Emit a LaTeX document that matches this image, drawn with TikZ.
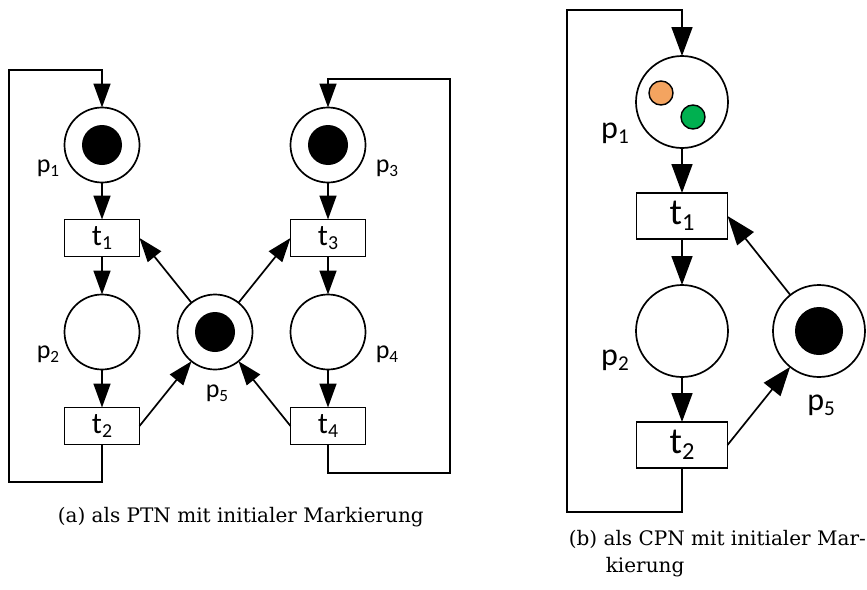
\documentclass[tikz,border=0pt]{standalone}
\usepackage{fontspec}
\usepackage{graphicx}
\setmainfont{DejaVu Serif}
\newfontfamily\lblfont{Carlito}
\usetikzlibrary{arrows.meta}
% index digit for place and transition names
\newcommand{\pnsub}[1]{\raisebox{-0.16em}{\scalebox{0.66}{#1}}}
\definecolor{tokorange}{RGB}{244,164,96}
\definecolor{tokgreen}{RGB}{0,176,80}

\begin{document}
\begin{tikzpicture}[x=1pt,y=-1pt,
  line width=1.7pt,
  arcA/.style={-{Triangle[length=24pt,width=17pt]}},
  arcB/.style={-{Triangle[length=29pt,width=21pt]}},
  placeA/.style={circle,draw,inner sep=0pt,outer sep=0pt,minimum size=75pt},
  placeB/.style={circle,draw,inner sep=0pt,outer sep=0pt,minimum size=92pt},
  transA/.style={rectangle,draw,inner sep=0pt,outer sep=0pt,minimum width=75pt,minimum height=37pt,
                 font=\lblfont\fontsize{30}{30}\selectfont},
  transB/.style={rectangle,draw,inner sep=0pt,outer sep=0pt,minimum width=91pt,minimum height=46pt,
                 font=\lblfont\fontsize{37}{37}\selectfont},
  tokA/.style={circle,fill=black,inner sep=0pt,minimum size=40pt},
  tokB/.style={circle,fill=black,inner sep=0pt,minimum size=48pt},
  ctok/.style={circle,draw=black,line width=1.4pt,inner sep=0pt,minimum size=24pt,fill=#1},
  lblA/.style={anchor=base,inner sep=0pt,font=\lblfont\fontsize{26}{26}\selectfont},
  lblB/.style={anchor=base,inner sep=0pt,font=\lblfont\fontsize{32}{32}\selectfont},
  capt/.style={anchor=base west,inner sep=0pt,font=\fontsize{20}{24}\selectfont}
]
\useasboundingbox (0,0) rectangle (867,589);

% ---------- (a) place/transition net ----------
\node[placeA] (ap1) at (102,145) {};
\node[tokA] (ap1tok) at (ap1) {};
\node[transA] (at1) at (102,238) {t\pnsub{1}};
\node[placeA] (ap2) at (102,332) {};
\node[transA] (at2) at (102,426) {t\pnsub{2}};

\node[placeA] (ap3) at (328,145) {};
\node[tokA] (ap3tok) at (ap3) {};
\node[transA] (at3) at (328,238) {t\pnsub{3}};
\node[placeA] (ap4) at (328,332) {};
\node[transA] (at4) at (328,426) {t\pnsub{4}};

\node[placeA] (ap5) at (215,332) {};
\node[tokA] (ap5tok) at (ap5) {};

\node[lblA] (ap1lbl) at (48,172) {p\pnsub{1}};
\node[lblA] (ap2lbl) at (48,358) {p\pnsub{2}};
\node[lblA] (ap3lbl) at (387,172) {p\pnsub{3}};
\node[lblA] (ap4lbl) at (387,358) {p\pnsub{4}};
\node[lblA] (ap5lbl) at (217,397) {p\pnsub{5}};

\draw[arcA] (ap1) -- (at1);
\draw[arcA] (at1) -- (ap2);
\draw[arcA] (ap2) -- (at2);
\draw[arcA] (ap3) -- (at3);
\draw[arcA] (at3) -- (ap4);
\draw[arcA] (ap4) -- (at4);
\draw[arcA] (ap5) -- (at1.east);
\draw[arcA] (ap5) -- (at3.west);
\draw[arcA] (at2.east) -- (ap5);
\draw[arcA] (at4.west) -- (ap5);

\coordinate (aLB) at (9,482);
\coordinate (aLT) at (9,70);
\draw[arcA] (at2.south) |- (aLB) -- (aLT) -| (ap1.north);
\coordinate (aRB) at (450,473);
\coordinate (aRT) at (450,79);
\draw[arcA] (at4.south) |- (aRB) -- (aRT) -| (ap3.north);

\node[capt] (capa) at (57,522) {(a) als PTN mit initialer Markierung};

% ---------- (b) coloured net ----------
\node[placeB] (bp1) at (682,102) {};
\node[ctok=tokorange] (bp1o) at (661,93) {};
\node[ctok=tokgreen] (bp1g) at (693,117) {};
\node[transB] (bt1) at (682,216) {t\pnsub{1}};
\node[placeB] (bp2) at (682,331) {};
\node[transB] (bt2) at (682,445) {t\pnsub{2}};
\node[placeB] (bp5) at (819,331) {};
\node[tokB] (bp5tok) at (bp5) {};

\node[lblB] (bp1lbl) at (615,138) {p\pnsub{1}};
\node[lblB] (bp2lbl) at (615,365) {p\pnsub{2}};
\node[lblB] (bp5lbl) at (821,410) {p\pnsub{5}};

\draw[arcB] (bp1) -- (bt1);
\draw[arcB] (bt1) -- (bp2);
\draw[arcB] (bp2) -- (bt2);
\draw[arcB] (bt2.east) -- (bp5);
\draw[arcB] (bp5) -- (bt1.east);

\coordinate (bLB) at (567,512);
\coordinate (bLT) at (567,10);
\draw[arcB] (bt2.south) |- (bLB) -- (bLT) -| (bp1.north);

\node[capt] (capb1) at (568,545) {(b) als CPN mit initialer Mar-};
\node[capt] (capb2) at (605,572) {kierung};
\end{tikzpicture}
\end{document}
